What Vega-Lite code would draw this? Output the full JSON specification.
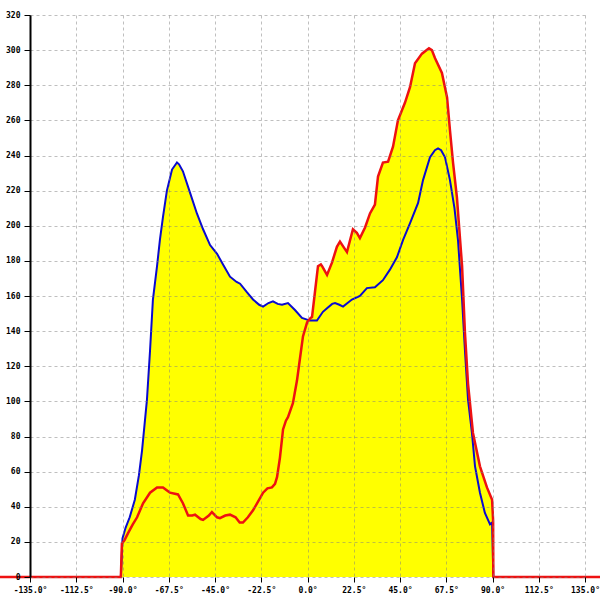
{
  "$schema": "https://vega.github.io/schema/vega-lite/v6.json",
  "autosize": {"type": "none"},
  "width": 555,
  "height": 562,
  "padding": {"left": 30, "top": 15, "right": 15, "bottom": 23},
  "background": "white",
  "config": {"view": {"stroke": null}},
  "datasets": {
    "blue": [
      {"a": -90.8, "v": 0}, {"a": -90.0, "v": 22}, {"a": -88.5, "v": 28}, {"a": -86.5, "v": 34},
      {"a": -84, "v": 44}, {"a": -82, "v": 58}, {"a": -80.5, "v": 72}, {"a": -78.1, "v": 101},
      {"a": -76.6, "v": 129}, {"a": -75.2, "v": 158}, {"a": -73.2, "v": 177}, {"a": -71.8, "v": 192},
      {"a": -70.3, "v": 205}, {"a": -68.4, "v": 220}, {"a": -65.9, "v": 232}, {"a": -63.5, "v": 236},
      {"a": -62.5, "v": 235}, {"a": -60.6, "v": 231}, {"a": -57.2, "v": 219}, {"a": -53.8, "v": 207},
      {"a": -50.8, "v": 198}, {"a": -47.4, "v": 189}, {"a": -44.0, "v": 184}, {"a": -41.1, "v": 178},
      {"a": -37.7, "v": 171}, {"a": -34.5, "v": 168}, {"a": -32.8, "v": 167}, {"a": -29.4, "v": 162},
      {"a": -26.5, "v": 158}, {"a": -23.5, "v": 155}, {"a": -21.6, "v": 154}, {"a": -19, "v": 156},
      {"a": -16.8, "v": 157}, {"a": -14.5, "v": 155.5}, {"a": -12.4, "v": 155}, {"a": -9.5, "v": 156},
      {"a": -6.1, "v": 152}, {"a": -2.7, "v": 147.5}, {"a": 1.2, "v": 146}, {"a": 4.6, "v": 146},
      {"a": 7.5, "v": 151}, {"a": 9.5, "v": 153}, {"a": 12, "v": 155.5}, {"a": 13.4, "v": 156},
      {"a": 15.5, "v": 155}, {"a": 17.3, "v": 154}, {"a": 21.6, "v": 158}, {"a": 25.5, "v": 160},
      {"a": 28.9, "v": 164.5}, {"a": 32.8, "v": 165}, {"a": 36.7, "v": 169}, {"a": 40.1, "v": 175},
      {"a": 43.5, "v": 182}, {"a": 46.5, "v": 192}, {"a": 49.9, "v": 201.5}, {"a": 53.8, "v": 213},
      {"a": 56.2, "v": 226}, {"a": 59.6, "v": 239}, {"a": 62, "v": 243}, {"a": 63.5, "v": 244},
      {"a": 65, "v": 243}, {"a": 66.9, "v": 239}, {"a": 69.3, "v": 226}, {"a": 71.5, "v": 210},
      {"a": 73.2, "v": 192}, {"a": 75.2, "v": 158}, {"a": 76.6, "v": 129}, {"a": 78.1, "v": 101},
      {"a": 80.0, "v": 82}, {"a": 81.5, "v": 63}, {"a": 83.9, "v": 48}, {"a": 86.3, "v": 36.5},
      {"a": 88.8, "v": 30}, {"a": 89.8, "v": 31}, {"a": 90.4, "v": 0}
    ],
    "red": [
      {"a": -180, "v": 0}, {"a": -90.8, "v": 0}, {"a": -90.3, "v": 19}, {"a": -89, "v": 21},
      {"a": -87.3, "v": 25}, {"a": -85, "v": 30}, {"a": -82.9, "v": 34}, {"a": -80.0, "v": 42},
      {"a": -76.6, "v": 48}, {"a": -73.2, "v": 51}, {"a": -70.3, "v": 51}, {"a": -68, "v": 49},
      {"a": -66.9, "v": 48}, {"a": -63.0, "v": 47}, {"a": -60.6, "v": 42}, {"a": -58.1, "v": 35},
      {"a": -56, "v": 35}, {"a": -54.7, "v": 35.5}, {"a": -52, "v": 33}, {"a": -50.8, "v": 32.5},
      {"a": -48, "v": 35}, {"a": -46.5, "v": 37}, {"a": -44, "v": 34}, {"a": -42.6, "v": 33.5},
      {"a": -40, "v": 35}, {"a": -37.7, "v": 35.5}, {"a": -35, "v": 34}, {"a": -33, "v": 31},
      {"a": -31.4, "v": 31}, {"a": -29, "v": 34}, {"a": -26.5, "v": 38}, {"a": -24, "v": 43},
      {"a": -21.6, "v": 48}, {"a": -19.5, "v": 50.5}, {"a": -17.3, "v": 51}, {"a": -15.8, "v": 53},
      {"a": -14.8, "v": 57}, {"a": -13.4, "v": 68}, {"a": -11.9, "v": 84}, {"a": -10.5, "v": 89},
      {"a": -9.5, "v": 91}, {"a": -7.1, "v": 99}, {"a": -5.1, "v": 112}, {"a": -3.6, "v": 125},
      {"a": -2.2, "v": 137}, {"a": -0.2, "v": 145}, {"a": 1.5, "v": 147.5}, {"a": 2.2, "v": 148},
      {"a": 3.7, "v": 163}, {"a": 5.1, "v": 177}, {"a": 6.5, "v": 178}, {"a": 7.1, "v": 177},
      {"a": 9.5, "v": 172}, {"a": 11.9, "v": 179}, {"a": 14.3, "v": 188}, {"a": 15.8, "v": 191},
      {"a": 17.5, "v": 188}, {"a": 19.2, "v": 185}, {"a": 22.1, "v": 198}, {"a": 24, "v": 196},
      {"a": 25.5, "v": 193}, {"a": 28.0, "v": 199}, {"a": 30.4, "v": 207}, {"a": 32.8, "v": 212},
      {"a": 34.3, "v": 228}, {"a": 36.7, "v": 236}, {"a": 39.2, "v": 236.5}, {"a": 41.6, "v": 245},
      {"a": 44.0, "v": 260}, {"a": 47.4, "v": 270}, {"a": 49.9, "v": 279}, {"a": 52.3, "v": 292.5},
      {"a": 55.7, "v": 298}, {"a": 59.1, "v": 301}, {"a": 60.5, "v": 300}, {"a": 62.0, "v": 295.5},
      {"a": 65.4, "v": 287}, {"a": 67.9, "v": 273}, {"a": 69.3, "v": 254.5}, {"a": 70.8, "v": 236},
      {"a": 72.7, "v": 216}, {"a": 75.2, "v": 177}, {"a": 76.6, "v": 139}, {"a": 78.1, "v": 110},
      {"a": 80.5, "v": 82}, {"a": 83.9, "v": 63}, {"a": 87.3, "v": 51}, {"a": 89.8, "v": 44},
      {"a": 90.3, "v": 32}, {"a": 90.4, "v": 0}, {"a": 180, "v": 0}
    ]
  },
  "encoding": {
    "x": {
      "field": "a", "type": "quantitative",
      "scale": {"domain": [-135, 135], "nice": false, "zero": false},
      "axis": {
        "title": null,
        "values": [-135, -112.5, -90, -67.5, -45, -22.5, 0, 22.5, 45, 67.5, 90, 112.5, 135],
        "labelExpr": "(datum.value < 0 ? '-' : '') + format(abs(datum.value), '.1f') + '°'",
        "domain": false,
        "tickColor": "black", "tickSize": 5, "tickWidth": 1,
        "labelFont": "DejaVu Sans Mono", "labelFontSize": 8, "labelFontWeight": "bold", "labelColor": "black",
        "labelPadding": 4, "labelFlush": false,
        "grid": true, "gridColor": "#808080", "gridOpacity": 0.5, "gridDash": [3, 3],
        "zindex": 1
      }
    },
    "y": {
      "field": "v", "type": "quantitative",
      "scale": {"domain": [0, 320], "nice": false},
      "axis": {
        "title": null,
        "values": [0, 20, 40, 60, 80, 100, 120, 140, 160, 180, 200, 220, 240, 260, 280, 300, 320],
        "domainColor": "black", "domainWidth": 2,
        "tickColor": "black", "tickSize": 6, "tickWidth": 1,
        "labelFont": "DejaVu Sans Mono", "labelFontSize": 8, "labelFontWeight": "bold", "labelColor": "black",
        "labelPadding": 4, "labelFlush": false,
        "grid": true, "gridColor": "#808080", "gridOpacity": 0.5, "gridDash": [3, 3],
        "zindex": 1
      }
    }
  },
  "layer": [
    {"data": {"name": "blue"}, "mark": {"type": "area", "color": "#ffff00", "clip": true}},
    {"data": {"name": "red"}, "mark": {"type": "area", "color": "#ffff00", "clip": true}},
    {"data": {"name": "blue"}, "mark": {"type": "line", "color": "#0a0ad0", "strokeWidth": 2, "clip": false}},
    {"data": {"name": "red"}, "mark": {"type": "line", "color": "#ee1111", "strokeWidth": 2.5, "clip": false}},
    {"data": {"values": [{}]}, "mark": {"type": "rule", "color": "black", "strokeWidth": 1.5}, "encoding": {"x": {"datum": 135}, "y": null}}
  ]
}
